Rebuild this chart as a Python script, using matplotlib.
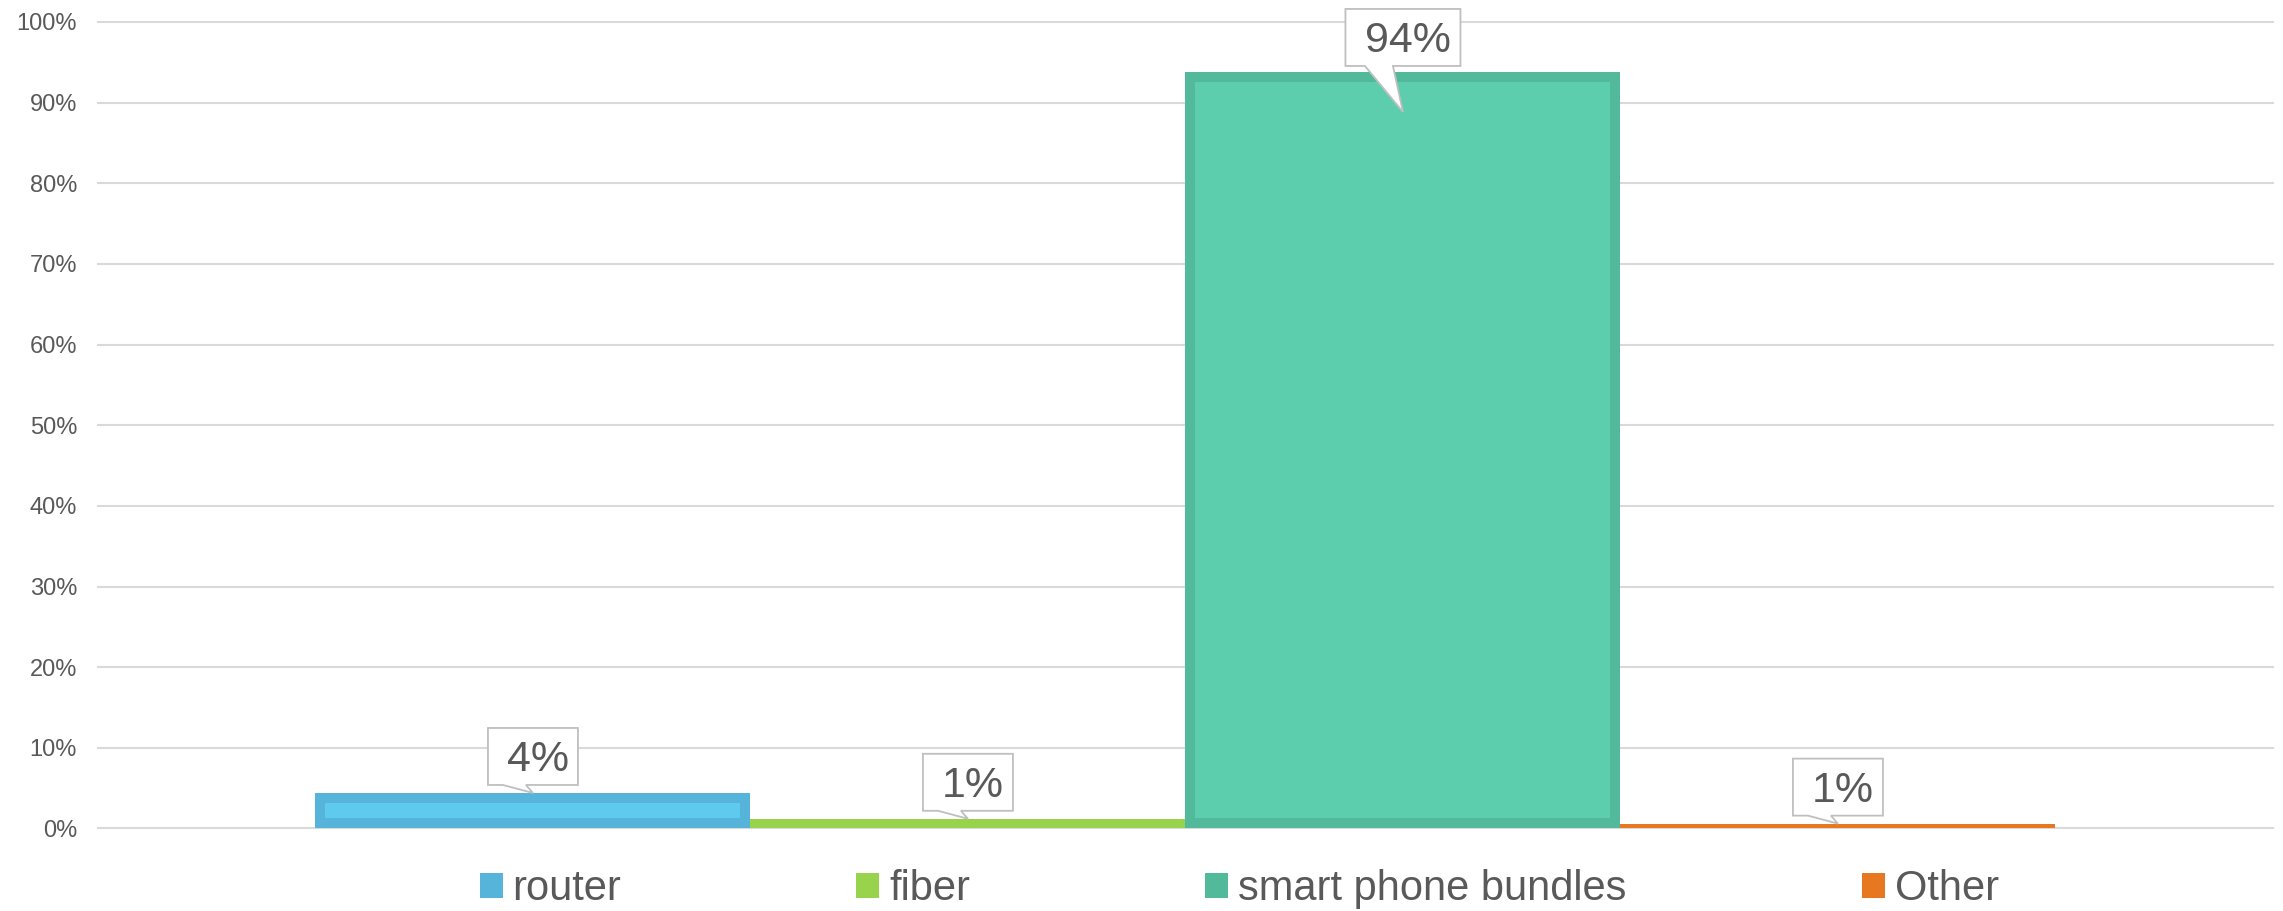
import matplotlib
matplotlib.use("Agg")
import matplotlib.pyplot as plt
import matplotlib.transforms as mtransforms
from matplotlib.patches import Polygon, Patch

plt.rcParams['font.family'] = ['Liberation Sans', 'DejaVu Sans']

# Data
categories = ["router", "fiber", "smart phone bundles", "Other"]
shares = [0.044, 0.012, 0.938, 0.006]
edge_colors = ["#56B4DA", "#98D34C", "#52B99A", "#E87722"]
fill_colors = ["#5DCAEE", "#98D34C", "#5CCEAE", "#E87722"]

TEXT = "#595959"
GRID = "#D9D9D9"
DPI = 100

fig = plt.figure(figsize=(22.83, 9.11), dpi=DPI)
ax = fig.add_axes([0.0429, 0.0906, 0.9527, 0.8853])

x = list(range(len(categories)))
ax.set_xlim(-1, 4)
ax.set_ylim(0, 1.0)

# outer bars in the border colour, inner bars inset by ~10 px
inset_x = 10 / 435
inset_y = 10 / 806.5
ax.bar(x, shares, width=1.0, color=edge_colors, zorder=2)
for xi, v, fc in zip(x, shares, fill_colors):
    if v > 2 * inset_y:
        ax.bar(xi, v - 2 * inset_y, bottom=inset_y, width=1.0 - 2 * inset_x,
               color=fc, zorder=3)

# axis styling
ax.set_yticks([i / 10 for i in range(11)])
ax.set_yticklabels([f"{i * 10}%" for i in range(11)])
ax.set_xticks([])
ax.tick_params(axis='y', length=0, pad=15, labelsize=17, labelcolor=TEXT)
for s in ax.spines.values():
    s.set_visible(False)
ax.grid(axis='y', color=GRID, linewidth=1.5, zorder=0)
ax.set_axisbelow(True)
for gl in ax.get_ygridlines():
    gl.set_clip_on(False)

# callout boxes with a pointer tail (sizes in pixels)
tip_drop = [0, 0, 40, 0]
for xi, v, drop in zip(x, shares, tip_drop):
    label = f"{v:.0%}"
    gap = 8 if drop == 0 else 6
    half_w = (40 + 25 * len(label)) / 2
    box_h = 57
    bottom = drop + gap
    top = bottom + box_h
    tl, tr = (-30, -7) if drop == 0 else (-38, -10)
    verts = [(-half_w, bottom), (tl, bottom), (0, 0), (tr, bottom),
             (half_w, bottom), (half_w, top), (-half_w, top)]
    verts = [(px / DPI, py / DPI) for px, py in verts]
    trans = fig.dpi_scale_trans + mtransforms.ScaledTranslation(
        xi, v, ax.transData) + mtransforms.Affine2D().translate(0, -drop)
    poly = Polygon(verts, closed=True, facecolor="white", edgecolor="#BFBFBF",
                   linewidth=1.3, transform=trans, zorder=5, clip_on=False)
    ax.add_artist(poly)
    ax.annotate(label, xy=(xi, v), xytext=(5, bottom - drop + box_h / 2 - 15),
                textcoords='offset pixels', ha='center', va='baseline',
                fontsize=31, color=TEXT, zorder=6, annotation_clip=False)

# legend
handles = [Patch(facecolor=c, edgecolor='none') for c in edge_colors]
fig.legend(handles, categories, loc='center', bbox_to_anchor=(0.5428, 0.024),
           ncol=4, frameon=False, fontsize=30, labelcolor=TEXT,
           handlelength=0.55, handleheight=0.55, handletextpad=0.24,
           columnspacing=5.64, borderpad=0, borderaxespad=0)

fig.savefig("out.png", dpi=DPI)
